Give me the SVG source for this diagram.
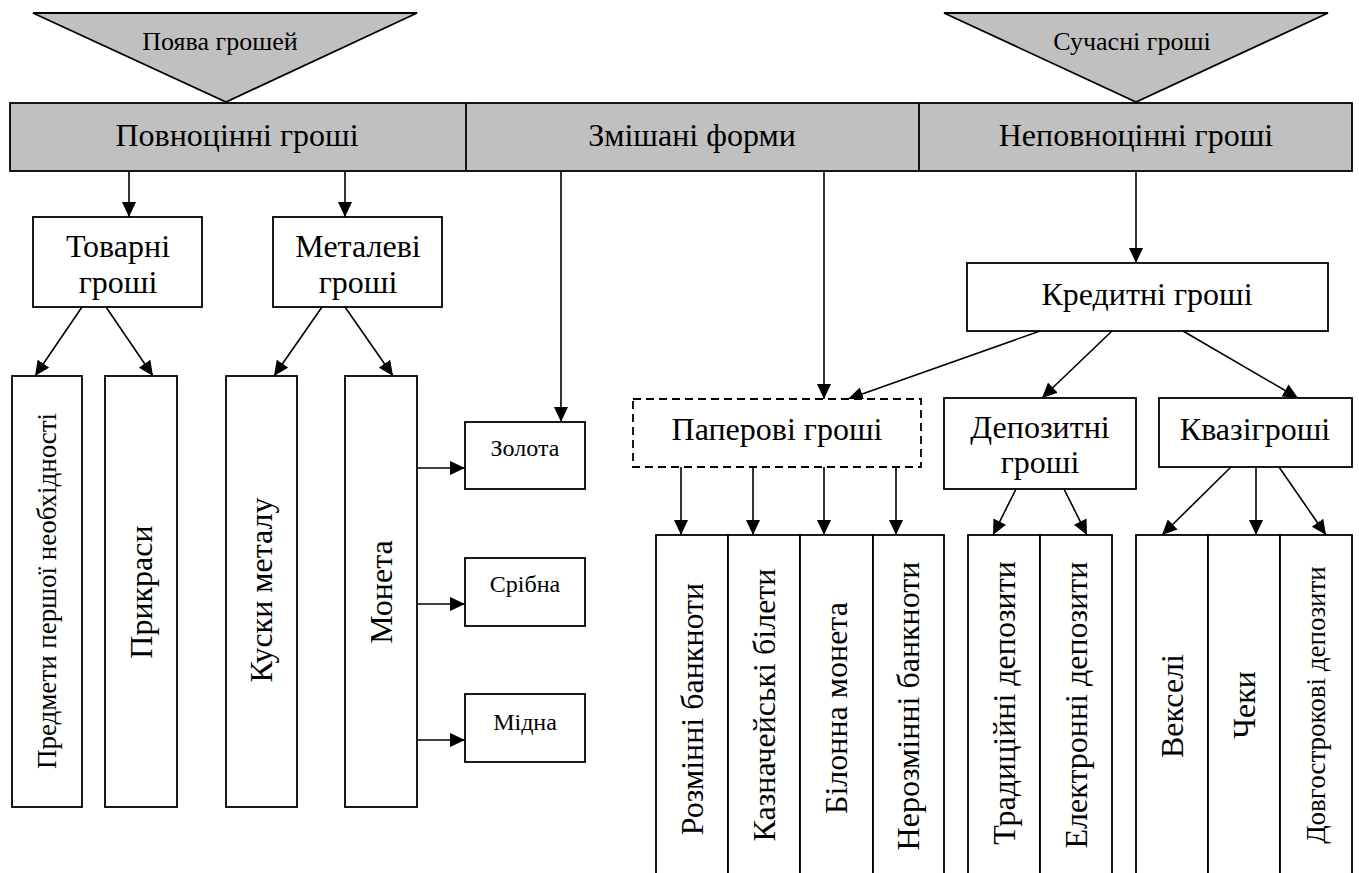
<svg xmlns="http://www.w3.org/2000/svg" width="1359" height="873" viewBox="0 0 1359 873">
<defs>
<marker id="ah" markerUnits="userSpaceOnUse" markerWidth="16" markerHeight="14" refX="15" refY="7" orient="auto">
<path d="M0,0 L15,7 L0,14 z" fill="#000"/>
</marker>
<style>
.box{fill:#fff;stroke:#000;stroke-width:1.8}
.dash{fill:#fff;stroke:#000;stroke-width:1.8;stroke-dasharray:8 5}
.gray{fill:#c0c0c0;stroke:#000;stroke-width:1.8}
.ln{stroke:#000;stroke-width:1.6;fill:none;marker-end:url(#ah)}
text{font-family:"Liberation Serif","Times New Roman",serif;fill:#000;text-anchor:middle}
.t32{font-size:32px}
.t27{font-size:27px}
.t26{font-size:26px}
.t24{font-size:24px}
</style>
</defs>
<rect width="1359" height="873" fill="#fff"/>

<g id="header">
<rect class="gray" x="10" y="103" width="1342" height="68"/>
<line x1="466" y1="103" x2="466" y2="171" stroke="#000" stroke-width="1.8"/>
<line x1="919" y1="103" x2="919" y2="171" stroke="#000" stroke-width="1.8"/>
<text class="t32" x="237" y="146">Повноцінні гроші</text>
<text class="t32" x="692" y="146">Змішані форми</text>
<text class="t32" x="1136" y="146">Неповноцінні гроші</text>
</g>

<g id="tri-left">
<polygon class="gray" points="33,13 417,13 226,102"/>
<text class="t26" x="220" y="50">Поява грошей</text>
</g>
<g id="tri-right">
<polygon class="gray" points="944,13 1328,13 1136,102"/>
<text class="t26" x="1132" y="50">Сучасні гроші</text>
</g>

<g id="connectors">
<line class="ln" x1="129" y1="171" x2="129" y2="217"/>
<line class="ln" x1="345" y1="171" x2="345" y2="217"/>
<line class="ln" x1="561" y1="171" x2="561" y2="422"/>
<line class="ln" x1="824" y1="171" x2="824" y2="399"/>
<line class="ln" x1="1136" y1="171" x2="1136" y2="263"/>
<line class="ln" x1="82" y1="307" x2="35" y2="376"/>
<line class="ln" x1="106" y1="307" x2="153" y2="376"/>
<line class="ln" x1="322" y1="307" x2="274" y2="376"/>
<line class="ln" x1="345" y1="307" x2="393" y2="376"/>
<line class="ln" x1="417" y1="468" x2="465" y2="468"/>
<line class="ln" x1="417" y1="604" x2="465" y2="604"/>
<line class="ln" x1="417" y1="740" x2="465" y2="740"/>
<line class="ln" x1="1040" y1="331" x2="848" y2="399"/>
<line class="ln" x1="1112" y1="331" x2="1042" y2="398"/>
<line class="ln" x1="1183" y1="331" x2="1298" y2="398"/>
<line class="ln" x1="681" y1="467" x2="681" y2="535"/>
<line class="ln" x1="753" y1="467" x2="753" y2="535"/>
<line class="ln" x1="824" y1="467" x2="824" y2="535"/>
<line class="ln" x1="896" y1="467" x2="896" y2="535"/>
<line class="ln" x1="1016" y1="489" x2="993" y2="535"/>
<line class="ln" x1="1064" y1="489" x2="1087" y2="535"/>
<line class="ln" x1="1231" y1="467" x2="1162" y2="535"/>
<line class="ln" x1="1256" y1="467" x2="1256" y2="535"/>
<line class="ln" x1="1279" y1="467" x2="1326" y2="535"/>
</g>

<g id="tovarni">
<rect class="box" x="33" y="217" width="169" height="90"/>
<text class="t32" x="118" y="257">Товарні</text>
<text class="t32" x="118" y="293">гроші</text>
</g>
<g id="metalevi">
<rect class="box" x="273" y="217" width="169" height="90"/>
<text class="t32" x="358" y="257">Металеві</text>
<text class="t32" x="358" y="293">гроші</text>
</g>

<g id="predmety">
<rect class="box" x="12" y="376" width="70" height="431"/>
<text class="t27" transform="translate(56,591) rotate(-90)">Предмети першої необхідності</text>
</g>
<g id="prykrasy">
<rect class="box" x="105" y="376" width="72" height="431"/>
<text class="t32" transform="translate(151.5,592) rotate(-90)">Прикраси</text>
</g>
<g id="kusky">
<rect class="box" x="226" y="376" width="71" height="431"/>
<text class="t32" transform="translate(272,590) rotate(-90)">Куски металу</text>
</g>
<g id="moneta">
<rect class="box" x="345" y="376" width="72" height="431"/>
<text class="t32" transform="translate(391.5,592) rotate(-90)">Монета</text>
</g>

<g id="zolota">
<rect class="box" x="465" y="422" width="120" height="67"/>
<text class="t24" x="525" y="456">Золота</text>
</g>
<g id="sribna">
<rect class="box" x="465" y="558" width="120" height="68"/>
<text class="t24" x="525" y="592">Срібна</text>
</g>
<g id="midna">
<rect class="box" x="465" y="694" width="120" height="68"/>
<text class="t24" x="525" y="730">Мідна</text>
</g>

<g id="kredytni">
<rect class="box" x="967" y="263" width="361" height="68"/>
<text class="t32" x="1147" y="305">Кредитні гроші</text>
</g>
<g id="paperovi">
<rect class="dash" x="633" y="399" width="288" height="68"/>
<text class="t32" x="777" y="440">Паперові гроші</text>
</g>
<g id="depozytni">
<rect class="box" x="944" y="398" width="192" height="91"/>
<text class="t32" x="1040" y="438">Депозитні</text>
<text class="t32" x="1040" y="473">гроші</text>
</g>
<g id="kvazi">
<rect class="box" x="1159" y="398" width="193" height="69"/>
<text class="t32" x="1255" y="440">Квазігроші</text>
</g>

<g id="paper-kinds">
<rect class="box" x="656" y="535" width="72" height="360"/>
<rect class="box" x="728" y="535" width="72" height="360"/>
<rect class="box" x="800" y="535" width="73" height="360"/>
<rect class="box" x="873" y="535" width="71" height="360"/>
<text class="t32" transform="translate(702.5,709) rotate(-90)">Розмінні банкноти</text>
<text class="t32" transform="translate(774.5,705) rotate(-90)">Казначейські білети</text>
<text class="t32" transform="translate(847,708) rotate(-90)">Білонна монета</text>
<text class="t32" transform="translate(919,706) rotate(-90)">Нерозмінні банкноти</text>
</g>
<g id="deposit-kinds">
<rect class="box" x="968" y="535" width="72" height="360"/>
<rect class="box" x="1040" y="535" width="72" height="360"/>
<text class="t32" transform="translate(1014.5,703) rotate(-90)">Традиційні депозити</text>
<text class="t32" transform="translate(1086.5,705) rotate(-90)">Електронні депозити</text>
</g>
<g id="quasi-kinds">
<rect class="box" x="1136" y="535" width="72" height="360"/>
<rect class="box" x="1208" y="535" width="72" height="360"/>
<rect class="box" x="1280" y="535" width="72" height="360"/>
<text class="t32" transform="translate(1182.5,706) rotate(-90)">Векселі</text>
<text class="t32" transform="translate(1254.5,705) rotate(-90)">Чеки</text>
<text class="t27" transform="translate(1325,705) rotate(-90)">Довгострокові депозити</text>
</g>
</svg>
